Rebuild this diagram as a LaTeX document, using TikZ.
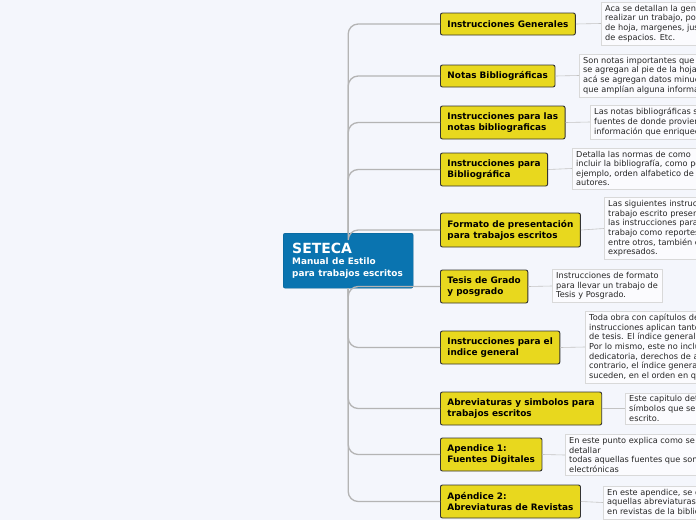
\documentclass[tikz,border=0pt]{standalone}
\usepackage{fontspec}
\setmainfont{DejaVu Sans}
\definecolor{bg}{HTML}{F4F6FC}
\definecolor{topicf}{HTML}{E8D81E}
\definecolor{cen}{HTML}{0A74B0}
\definecolor{ln}{HTML}{B4B4B4}
\begin{document}
\begin{tikzpicture}[x=1pt,y=-1pt,
 topic/.style={draw=black!80,line width=0.9pt,fill=topicf,rounded corners=2pt,anchor=west,align=left,font=\fontsize{8.9}{11}\selectfont\bfseries,inner xsep=7pt,minimum height=22pt},
 note/.style={draw=black!15,fill=white!60!bg,anchor=west,align=left,font=\fontsize{8.2}{9.6}\selectfont,inner xsep=4pt,inner ysep=3pt,text=black!85},
 br/.style={draw=ln,line width=1.3pt,rounded corners=10pt},
 nl/.style={draw=ln!80,line width=0.6pt}]
\useasboundingbox (0,0) rectangle (696,520);
\fill[bg] (0,0) rectangle (696,520);
\begin{scope}
\clip (0,0) rectangle (696,520);
\node[topic] (t1) at (440,24) {Instrucciones Generales};
\node[topic] (t2) at (440,76) {Notas Bibliográficas};
\node[topic,minimum height=33pt] (t3) at (440,122.5) {Instrucciones para las\\notas bibliograficas};
\node[topic,minimum height=33pt] (t4) at (440,169.5) {Instrucciones para\\Bibliográfica};
\node[topic,minimum height=34pt] (t5) at (440,230) {Formato de presentación\\para trabajos escritos};
\node[topic,minimum height=33pt] (t6) at (440,286.5) {Tesis de Grado\\y posgrado};
\node[topic,minimum height=33pt] (t7) at (440,347.5) {Instrucciones para el\\indice general};
\node[topic,minimum height=33pt] (t8) at (440,408.5) {Abreviaturas y simbolos para\\trabajos escritos};
\node[topic,minimum height=33pt] (t9) at (440,454.5) {Apendice 1:\\Fuentes Digitales};
\node[topic,minimum height=33pt] (t10) at (440,501.5) {Apéndice 2:\\Abreviaturas de Revistas};
\node[draw=cen!80!black,fill=cen,rounded corners=2pt,text=white,align=left,anchor=north west,text width=112pt,minimum height=55pt,inner xsep=9pt] (c) at (283,233)
 {{\fontsize{14}{15}\selectfont\bfseries SETECA}\\[-1pt]{\fontsize{8.9}{10.5}\selectfont\bfseries Manual de Estilo}\\{\fontsize{8.9}{10.5}\selectfont\bfseries para trabajos escritos}};
\foreach \t in {t1,t2,t3,t4,t5}{\draw[br] (c.north) |- (\t.west);}
\foreach \t in {t6,t7,t8,t9,t10}{\draw[br] (c.south) |- (\t.west);}
\node[note] (n1) at (601,23.5) {Aca se detallan la generalidades para\\realizar un trabajo, por ejemplo tamaño\\de hoja, margenes, justificación, uso\\de espacios. Etc.};
\node[note] (n2) at (579,75.5) {Son notas importantes que\\se agregan al pie de la hoja,\\acá se agregan datos minuciosos\\que amplían alguna información};
\node[note] (n3) at (590,122) {Las notas bibliográficas son las\\fuentes de donde proviene la\\información que enriquece el texto};
\node[note] (n4) at (572,168.5) {Detalla las normas de como\\incluir la bibliografía, como por\\ejemplo, orden alfabetico de los\\autores.};
\node[note] (n5) at (604,228.5) {Las siguientes instrucciones de\\trabajo escrito presentan\\las instrucciones para todo\\trabajo como reportes, ensayos\\entre otros, también están\\expresados.};
\node[note] (n6) at (552,286) {Instrucciones de formato\\para llevar un trabajo de\\Tesis y Posgrado.};
\node[note] (n7) at (585,347) {Toda obra con capítulos debe tener\\instrucciones aplican tanto a trabajos\\de tesis. El índice general no incluye\\Por lo mismo, este no incluye la\\dedicatoria, derechos de autor, al\\contrario, el índice general los\\suceden, en el orden en que aparecen};
\node[note] (n8) at (625,408.5) {Este capitulo detalla los\\símbolos que se usan en el\\escrito.};
\node[note] (n9) at (565,455) {En este punto explica como se deben\\detallar\\todas aquellas fuentes que son\\electrónicas};
\node[note] (n10) at (603,502.5) {En este apendice, se detallan\\aquellas abreviaturas usadas\\en revistas de la bibliografía};
\foreach \i in {1,...,10}{\draw[nl] (t\i.east) -- (n\i.west);}
\end{scope}
\end{tikzpicture}
\end{document}
